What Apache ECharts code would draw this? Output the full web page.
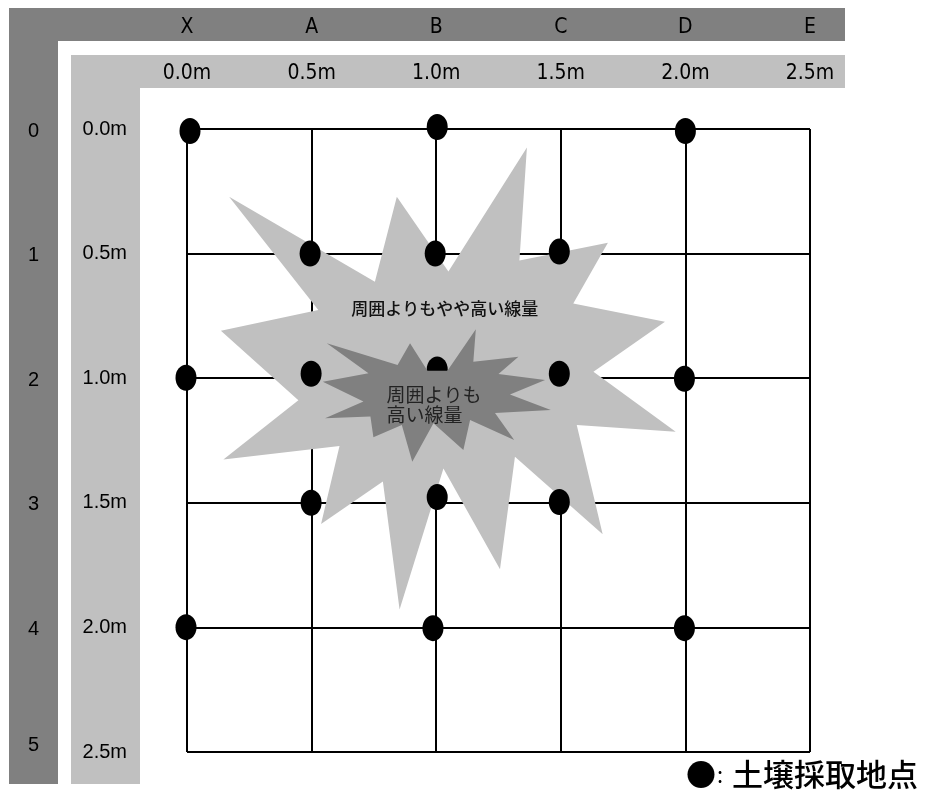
<!DOCTYPE html>
<html>
<head>
<meta charset="utf-8">
<script src="https://cdn.jsdelivr.net/npm/echarts@6/dist/echarts.min.js"></script>
<style>html,body{margin:0;padding:0;background:#fff;}#c{width:926px;height:798px;}</style>
</head>
<body>
<div id="c"></div>
<script>
// ---- data ----
var colLetters = ['X', 'A', 'B', 'C', 'D', 'E'];
var colMeters = ['0.0m', '0.5m', '1.0m', '1.5m', '2.0m', '2.5m'];
var rowNumbers = ['0', '1', '2', '3', '4', '5'];
var rowMeters = ['0.0m', '0.5m', '1.0m', '1.5m', '2.0m', '2.5m'];

// soil sampling points [x(m), y(m)]
var samplePoints = [
  [0.012, 0.008], [1.004, -0.008], [2.0, 0.008],
  [0.494, 0.5], [0.996, 0.5], [1.494, 0.492],
  [-0.004, 0.998], [0.498, 0.982], [1.004, 0.965], [1.494, 0.982], [1.996, 1.002],
  [0.498, 1.5], [1.004, 1.477], [1.494, 1.497],
  [-0.004, 1.999], [0.987, 2.003], [1.996, 2.003]
];

// zone: slightly higher dose than surroundings
var lightStar = [
  [0.169, 0.272], [0.754, 0.613], [0.842, 0.272], [1.049, 0.572], [1.364, 0.074],
  [1.334, 0.528], [1.689, 0.456], [1.550, 0.700], [1.918, 0.773], [1.631, 0.974],
  [1.961, 1.215], [1.564, 1.188], [1.668, 1.626], [1.316, 1.315], [1.256, 1.767],
  [1.029, 1.362], [0.853, 1.928], [0.786, 1.415], [0.538, 1.585], [0.612, 1.272],
  [0.146, 1.326], [0.447, 1.088], [0.136, 0.810], [0.527, 0.726]
];
// zone: higher dose than surroundings
var darkStar = [
  [0.561, 0.860], [0.845, 0.947], [0.895, 0.860], [0.965, 0.970], [1.045, 0.970],
  [1.159, 0.804], [1.149, 0.934], [1.330, 0.914], [1.250, 0.983], [1.437, 1.007],
  [1.296, 1.065], [1.460, 1.128], [1.236, 1.140], [1.313, 1.248], [1.136, 1.168],
  [1.109, 1.288], [0.989, 1.181], [0.904, 1.335], [0.862, 1.188], [0.748, 1.237],
  [0.736, 1.154], [0.554, 1.161], [0.708, 1.094], [0.545, 1.014], [0.728, 0.980]
];
var lightLabel = '周囲よりもやや高い線量';
var lightLabelAt = [1.034, 0.719];
var darkLabelLines = ['周囲よりも', '高い線量'];
var darkLabelAt = [0.801, 1.025];
var legendMark = '●';
var legendText = '土壌採取地点';

// ---- chart ----
var chart = echarts.init(document.getElementById('c'), null, {renderer: 'canvas'});
function pick(arr) { return function (v) { return arr[Math.round(v / 0.5)] || ''; }; }
function pickRow(v) {
  var i = Math.round(v / 0.5);
  var s = rowNumbers[i] || '';
  return i === rowNumbers.length - 1 ? '{u|' + s + '}' : s;
}
function polySeries(pts, fill, z) {
  return {
    type: 'custom', coordinateSystem: 'cartesian2d', z: z, silent: true, clip: false,
    data: pts,
    renderItem: function (params, api) {
      if (params.dataIndex !== 0) return null;
      return {
        type: 'polygon',
        shape: {points: pts.map(function (p) { return api.coord(p); })},
        style: {fill: fill, stroke: null}
      };
    }
  };
}
var narrow = "'Liberation Sans Narrow', 'DejaVu Sans Condensed', 'Liberation Sans', sans-serif";
var sans = "'Liberation Sans', Arial, sans-serif";
var cjk = "'Noto Sans CJK JP', sans-serif";

chart.setOption({
  animation: false,
  backgroundColor: '#fff',
  graphic: [
    {type: 'rect', shape: {x: 9, y: 8, width: 836, height: 33}, style: {fill: '#808080'}, z: -10},
    {type: 'rect', shape: {x: 9, y: 8, width: 49, height: 776}, style: {fill: '#808080'}, z: -10},
    {type: 'rect', shape: {x: 71, y: 55, width: 774, height: 33}, style: {fill: '#c0c0c0'}, z: -10},
    {type: 'rect', shape: {x: 71, y: 55, width: 69, height: 729}, style: {fill: '#c0c0c0'}, z: -10},
    {
      type: 'text', left: 686, top: 759, z: 10,
      style: {
        text: '{a|' + legendMark + '}{b|:}{c|' + legendText + '}',
        rich: {
          a: {fontSize: 30, fontFamily: cjk, fill: '#000'},
          b: {fontSize: 22, fontFamily: cjk, fill: '#000', padding: [0, 9, 0, 1]},
          c: {fontSize: 31, fontFamily: cjk, fill: '#000', fontWeight: 500}
        }
      }
    }
  ],
  grid: {left: 187, right: 116, top: 129, bottom: 46, containLabel: false},
  xAxis: [
    {
      type: 'value', position: 'top', min: 0, max: 2.5, interval: 0.5,
      axisLine: {show: false}, axisTick: {show: false},
      splitLine: {show: true, lineStyle: {color: '#000', width: 2}},
      axisLabel: {formatter: pick(colMeters), margin: 45, fontSize: 21, fontFamily: narrow, color: '#000'}
    },
    {
      type: 'value', position: 'top', min: 0, max: 2.5, interval: 0.5,
      axisLine: {show: false}, axisTick: {show: false}, splitLine: {show: false},
      axisLabel: {formatter: pick(colLetters), margin: 91, fontSize: 21, fontFamily: narrow, color: '#000'}
    }
  ],
  yAxis: [
    {
      type: 'value', inverse: true, position: 'left', min: 0, max: 2.5, interval: 0.5,
      axisLine: {show: false}, axisTick: {show: false},
      splitLine: {show: true, lineStyle: {color: '#000', width: 2}},
      axisLabel: {formatter: pick(rowMeters), margin: 60, fontSize: 20, fontFamily: sans, color: '#000', padding: [7, 0, 0, 0]}
    },
    {
      type: 'value', inverse: true, position: 'left', min: 0, max: 2.5, interval: 0.5,
      axisLine: {show: false}, axisTick: {show: false}, splitLine: {show: false},
      axisLabel: {formatter: pickRow, margin: 148, fontSize: 20, fontFamily: sans, color: '#000', padding: [4, 0, 0, 0],
        rich: {u: {fontSize: 20, fontFamily: sans, color: '#000', padding: [0, 0, 18, 0]}}}
    }
  ],
  series: [
    polySeries(lightStar, '#c0c0c0', 2),
    {
      type: 'scatter', z: 3, symbol: 'circle', symbolSize: [21, 26], clip: false,
      itemStyle: {color: '#000', opacity: 1}, data: samplePoints, silent: true
    },
    polySeries(darkStar, '#808080', 4),
    {
      type: 'custom', coordinateSystem: 'cartesian2d', z: 5, silent: true,
      data: [lightLabelAt, darkLabelAt],
      renderItem: function (params, api) {
        var p = api.coord([api.value(0), api.value(1)]);
        if (params.dataIndex === 0) {
          return {type: 'text', x: p[0], y: p[1], style: {
            text: lightLabel, fontSize: 17, fontFamily: cjk, fontWeight: 500,
            fill: '#111', align: 'center', verticalAlign: 'middle'}};
        }
        return {type: 'text', x: p[0], y: p[1], style: {
          text: darkLabelLines.join('\n'), fontSize: 19, lineHeight: 20, fontFamily: cjk,
          fill: '#222', align: 'left', verticalAlign: 'top'}};
      }
    }
  ]
});
</script>
</body>
</html>
